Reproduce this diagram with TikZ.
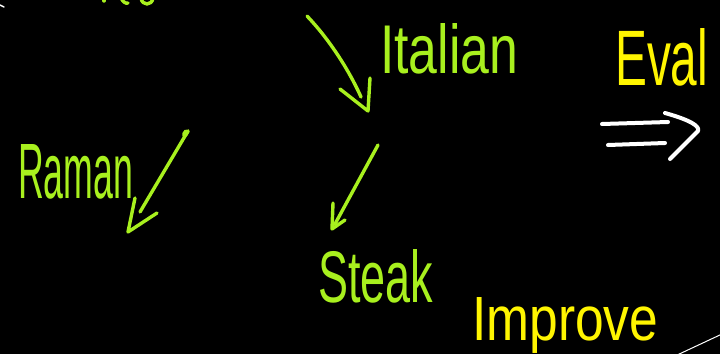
\documentclass[tikz,border=0pt]{standalone}
\usepackage{fontspec}
\usepackage{graphicx}
\setmainfont{Liberation Sans}
\definecolor{inkgreen}{RGB}{168,240,30}
\definecolor{inkyellow}{RGB}{255,245,0}
\begin{document}
\begin{tikzpicture}[x=1pt,y=-1pt,
  greenink/.style={draw=inkgreen,line width=3.4pt,line cap=round,line join=round},
  whiteink/.style={draw=white,line width=4pt,line cap=round,line join=round},
  label/.style={inner sep=0pt,anchor=base west}]
\fill[black] (0,0) rectangle (720,354);
\clip (0,0) rectangle (720,354);
\useasboundingbox (0,0) rectangle (720,354);

% text labels
\node[label,text=inkgreen] (italian) at (380,73) {\resizebox{138pt}{50pt}{Italian}};
\node[label,text=inkyellow] (eval) at (615,85) {\resizebox{93pt}{57pt}{Eval}};
\node[label,text=inkgreen] (raman) at (18,198) {\resizebox{115pt}{54pt}{Raman}};
\node[label,text=inkgreen] (steak) at (318,302) {\resizebox{115pt}{53pt}{Steak}};
\node[label,text=inkyellow] (improve) at (472,340) {\resizebox{186pt}{43pt}{Improve}};

% Italian arrow
\coordinate (a1s) at (307,16);
\coordinate (a1e) at (361,97);
\coordinate (a1t) at (368,111);
\coordinate (a1l) at (340,89);
\coordinate (a1r) at (370,78);
\draw[greenink] (a1s) .. controls (328,38) and (348,68) .. (a1e);
\draw[greenink] (a1l) -- (a1t) -- (a1r);

% Raman arrow
\coordinate (a2s) at (188,131);
\coordinate (a2e) at (140,212);
\coordinate (a2t) at (128,232);
\coordinate (a2l) at (135,198);
\coordinate (a2r) at (157,213);
\draw[greenink] (a2s) -- (a2e);
\draw[greenink] (186,131) .. controls (182,134) and (184,140) .. (a2s);
\draw[greenink] (a2l) -- (a2t) -- (a2r);

% Steak arrow
\coordinate (a3s) at (378,145);
\coordinate (a3e) at (335,224);
\coordinate (a3t) at (332,229);
\coordinate (a3l) at (333,203);
\coordinate (a3r) at (345,220);
\draw[greenink] (a3s) -- (a3e);
\draw[greenink] (a3l) -- (a3t) -- (a3r);

% white implies arrow
\coordinate (w1a) at (602,124);
\coordinate (w1b) at (668,122);
\coordinate (w2a) at (608,145);
\coordinate (w2b) at (665,143);
\coordinate (wc1) at (665,113);
\coordinate (wc2) at (698,131);
\coordinate (wc3) at (670,159);
\draw[whiteink] (w1a) -- (w1b);
\draw[whiteink] (w2a) -- (w2b);
\draw[whiteink] (wc1) .. controls (690,120) and (700,126) .. (wc2) -- (wc3);

% bottom right white stroke
\coordinate (bl1) at (675,356);
\coordinate (bl2) at (722,334);
\draw[draw=white,line width=1pt] (bl1) -- (bl2);

% cut-off fragments at the top
\draw[draw=white,line width=1.5pt,line cap=round] (0,5) -- (4,7);
\draw[greenink] (104,-2) -- (104,1);
\draw[greenink] (121,-2) .. controls (123,2) and (126,4) .. (128,3);
\draw[greenink] (141,-2) .. controls (142,6) and (152,6) .. (153,-2);
\end{tikzpicture}
\end{document}
